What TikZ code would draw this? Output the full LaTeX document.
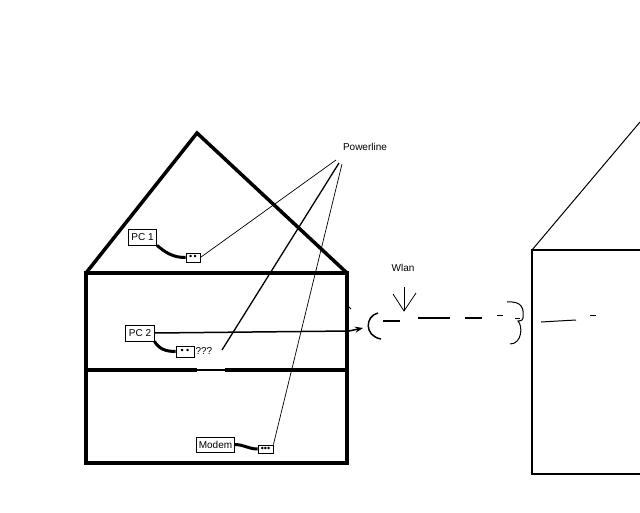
\documentclass[tikz,border=0pt]{standalone}
\usepackage{fontspec}
\setmainfont{Liberation Sans}
\usepackage{tikz}
\usetikzlibrary{arrows.meta,positioning}

\tikzset{
  wall/.style={line width=3.5pt},
  farwall/.style={line width=1.3pt},
  device/.style={draw,line width=0.8pt,minimum height=16pt,inner xsep=3pt,inner ysep=0pt},
  socket/.style={draw,line width=0.8pt,inner sep=0pt,font=\fontsize{9}{9}\selectfont},
  cable/.style={line width=3pt},
  plc/.style={line width=0.7pt},
  radio/.style={line width=1.6pt}
}

\begin{document}
\begin{tikzpicture}[x=1pt,y=-1pt,font=\fontsize{10}{12}\selectfont]
    \useasboundingbox[fill=white] (0,0) rectangle (640,512);

    % house with the network
    \draw[wall] (86,273) rectangle (347,463);
    \draw[wall] (86,273) -- (197,133) -- (347,273);
    \draw[wall] (86,370) -- (197,370) (225,370) -- (347,370);
    \draw[line width=2.5pt] (196,370) -- (226,370);
    \draw[line width=1pt] (348,306) -- (351,309);

    % neighbour
    \draw[farwall] (640,250) -- (532,250) -- (532,474) -- (640,474);
    \draw[line width=1pt] (532,250) -- (640,122);

    % devices and sockets
    \node[device] (pc1) at (142.5,237) {PC 1};
    \node[socket,minimum width=14pt,minimum height=9pt] (s1) at (193,257.5) {•\,•};
    \node[device] (pc2) at (140,333) {PC 2};
    \node[socket,minimum width=18pt,minimum height=11pt] (s2) at (185,351.5) {•\;•};
    \node (qq) [right=0pt of s2,inner sep=1pt] {???};
    \node[device,minimum height=15pt,inner xsep=2pt] (modem) at (215.5,444.5) {Modem};
    \node[socket,minimum width=15pt,minimum height=8pt] (s3) at (265.5,449) {•••};

    \path[cable]
    (pc1.south east) edge[out=-40,in=180] (s1.west)
    (pc2.south east) edge[out=-60,in=180] (s2.west)
    (modem.east) edge[out=0,in=180] (s3.west);

    % powerline
    \node (pl) at (365,147) {Powerline};
    \coordinate (pl1) at (336,160);
    \coordinate (pl2) at (339,163);
    \coordinate (pl3) at (342,164);
    \coordinate (qqend) at (222,350);
    \draw[plc] (pl1) -- (s1.east);
    \draw[line width=1.3pt] (pl2) -- (qqend);
    \draw[plc] (pl3) -- (s3.north east);

    % wlan
    \coordinate (ant) at (363,328);
    \draw[line width=1.5pt,-{Stealth[length=8pt,width=6pt]}] (pc2.east) -- (349,331) -- (ant);
    \draw[line width=1.5pt] (378,313) .. controls (365,316) and (364,336) .. (381,339);
    \draw[radio] (383,321) -- (400,321);
    \draw[radio] (418,318) -- (450,318);
    \draw[radio] (465,318) -- (482,318);
    \draw[line width=1pt] (497,315) -- (503,315) (515,318) -- (520,318);
    \draw[line width=1pt] (507,302) .. controls (522,301) and (524,308) .. (523,318)
      .. controls (522,322) and (519,320) .. (518,321)
      .. controls (523,326) and (522,344) .. (510,344);
    \draw[line width=1pt] (541,322) -- (558,321) -- (576,320);
    \draw[line width=1pt] (590,315) -- (596,315);

    \node (wlan) at (403,268) {Wlan};
    \draw[line width=0.8pt] (404,287) -- (404,311);
    \draw[line width=0.8pt] (393,294) -- (404,311) -- (416,293);
\end{tikzpicture}
\end{document}
